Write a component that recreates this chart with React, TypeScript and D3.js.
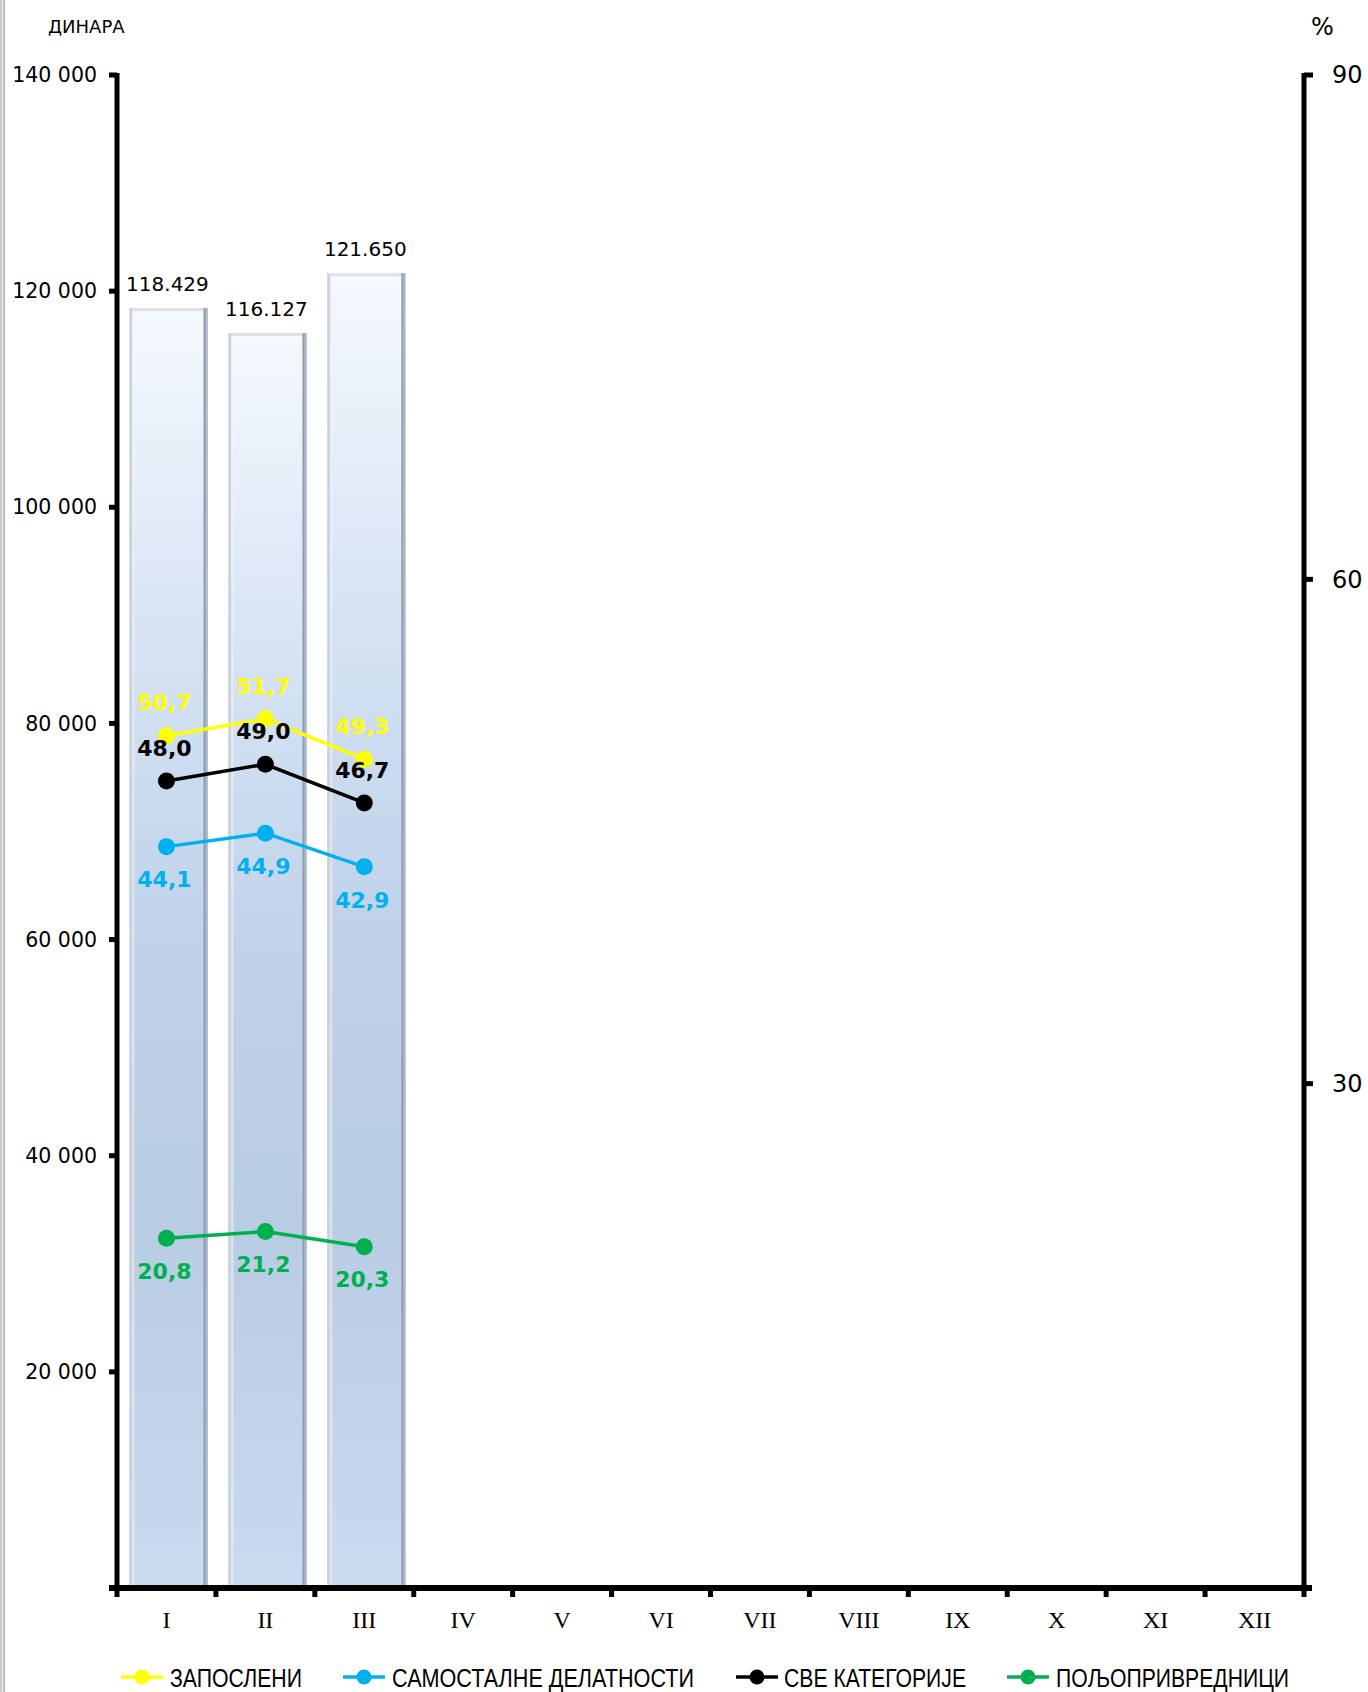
import React from "react";
import * as d3 from "d3";

const months = ["I", "II", "III", "IV", "V", "VI", "VII", "VIII", "IX", "X", "XI", "XII"];
const barValues = [118429, 116127, 121650];
const barLabels = ["118.429", "116.127", "121.650"];
const leftTicks = [20000, 40000, 60000, 80000, 100000, 120000, 140000];
const leftTickLabels = ["20 000", "40 000", "60 000", "80 000", "100 000", "120 000", "140 000"];
const rightTicks = [30, 60, 90];

const seriesNames = ["ЗАПОСЛЕНИ", "САМОСТАЛНЕ ДЕЛАТНОСТИ", "СВЕ КАТЕГОРИЈЕ", "ПОЉОПРИВРЕДНИЦИ"];
const seriesColors = ["#ffff00", "#00b0f0", "#000000", "#00b050"];
const zaposleni = [50.7, 51.7, 49.3];
const samostalne = [44.1, 44.9, 42.9];
const sve = [48.0, 49.0, 46.7];
const poljo = [20.8, 21.2, 20.3];
const seriesValues = [zaposleni, samostalne, sve, poljo];
// label offset direction: -1 above, +1 below
const labelSide = [-1, 1, -1, 1];

const W = 1368;
const H = 1692;
const left = 117;
const right = 1304;
const top = 75;
const bottom = 1588;

export default function App() {
  const x = d3.scaleBand<string>().domain(months).range([left, right]).padding(0);
  const yL = d3.scaleLinear().domain([0, 140000]).range([bottom, top]);
  const yR = d3.scaleLinear().domain([0, 90]).range([bottom, top]);
  const bw = x.bandwidth();
  const barW = bw * 0.79;
  const line = d3
    .line<number>()
    .x((_, i) => (x(months[i]) as number) + bw / 2)
    .y((d) => yR(d));

  const legendItems = [
    { lx: 121, tx: 170, tw: 132 },
    { lx: 343, tx: 392, tw: 302 },
    { lx: 736, tx: 784, tw: 182 },
    { lx: 1007, tx: 1056, tw: 233 },
  ];

  return (
    <div style={{ position: "absolute", left: 0, top: 0 }}>
      <svg width={W} height={H} style={{ display: "block", background: "#fff" }}>
        <defs>
          <linearGradient id="barGrad" x1="0" y1="0" x2="0" y2="1">
            <stop offset="0" stopColor="#f6f9fe" />
            <stop offset="0.1" stopColor="#e9f0fa" />
            <stop offset="0.3" stopColor="#d2e0f2" />
            <stop offset="0.5" stopColor="#bfd2ea" />
            <stop offset="0.72" stopColor="#b8cce4" />
            <stop offset="1" stopColor="#cadaef" />
          </linearGradient>
          <linearGradient id="edgeGrad" x1="0" y1="0" x2="1" y2="0">
            <stop offset="0" stopColor="#c0c0c0" />
            <stop offset="0.5" stopColor="#e4e4e4" />
            <stop offset="1" stopColor="#aaaaaa" />
          </linearGradient>
        </defs>
        <rect x={0} y={0} width={5} height={H} fill="url(#edgeGrad)" />

        {/* bars */}
        {barValues.map((v, i) => {
          const cx = (x(months[i]) as number) + bw / 2 + 2;
          const x0 = cx - barW / 2;
          const y0 = yL(v);
          const h = bottom - 3 - y0;
          return (
            <g key={i}>
              <rect x={x0} y={y0} width={barW} height={h} fill="url(#barGrad)" />
              <rect x={x0} y={y0} width={barW} height={3} fill="#dde1e6" />
              <rect x={x0} y={y0} width={3} height={h} fill="#ccd3db" />
              <rect x={x0 + 3} y={y0 + 3} width={2} height={h - 3} fill="#f2f6fb" opacity={0.6} />
              <rect x={x0 + barW - 4} y={y0} width={4} height={h} fill="#8d9db3" />
              <rect x={x0 + barW - 2} y={y0} width={2} height={h} fill="#b4bcc8" />
              <text
                x={cx - 1}
                y={y0 - 17}
                textAnchor="middle"
                fontFamily="DejaVu Sans, Verdana, sans-serif"
                fontSize={20}
                fill="#000"
              >
                {barLabels[i]}
              </text>
            </g>
          );
        })}

        {/* axes */}
        <line x1={left} y1={top - 2} x2={left} y2={bottom + 2} stroke="#000" strokeWidth={5} />
        <line x1={right} y1={top - 2} x2={right} y2={bottom + 2} stroke="#000" strokeWidth={5} />
        <line x1={left - 8} y1={bottom} x2={right + 8} y2={bottom} stroke="#000" strokeWidth={6} />
        {leftTicks.map((t, i) => (
          <g key={t}>
            <line x1={left - 8} x2={left} y1={yL(t)} y2={yL(t)} stroke="#000" strokeWidth={5} />
            <text
              x={97}
              y={yL(t)}
              dy="0.35em"
              textAnchor="end"
              fontFamily="DejaVu Sans, Verdana, sans-serif"
              fontSize={20.5}
              fill="#000"
            >
              {leftTickLabels[i]}
            </text>
          </g>
        ))}
        {rightTicks.map((t) => (
          <g key={t}>
            <line x1={right} x2={right + 9} y1={yR(t)} y2={yR(t)} stroke="#000" strokeWidth={5} />
            <text
              x={1332}
              y={yR(t)}
              dy="0.35em"
              textAnchor="start"
              fontFamily="DejaVu Sans, Verdana, sans-serif"
              fontSize={24}
              fill="#000"
            >
              {t}
            </text>
          </g>
        ))}
        {d3.range(months.length + 1).map((i) => (
          <line
            key={i}
            x1={left + i * bw}
            x2={left + i * bw}
            y1={bottom}
            y2={bottom + 9}
            stroke="#000"
            strokeWidth={5}
          />
        ))}
        {months.map((m) => (
          <text
            key={m}
            x={(x(m) as number) + bw / 2}
            y={1620}
            dy="0.35em"
            textAnchor="middle"
            fontFamily="Liberation Serif, Times New Roman, serif"
            fontSize={24}
            fill="#000"
          >
            {m}
          </text>
        ))}
        <text x={48} y={27} dy="0.35em" fontFamily="DejaVu Sans, Verdana, sans-serif" fontSize={18} fill="#000">
          ДИНАРА
        </text>
        <text x={1311} y={27} dy="0.35em" fontFamily="DejaVu Sans, Verdana, sans-serif" fontSize={24} fill="#000">
          %
        </text>

        {/* lines */}
        {seriesValues.map((vals, s) => (
          <g key={s}>
            <path d={line(vals) || ""} fill="none" stroke={seriesColors[s]} strokeWidth={3.5} />
            {vals.map((v, i) => (
              <circle
                key={i}
                cx={(x(months[i]) as number) + bw / 2}
                cy={yR(v)}
                r={8.5}
                fill={seriesColors[s]}
              />
            ))}
            {vals.map((v, i) => (
              <text
                key={"t" + i}
                x={(x(months[i]) as number) + bw / 2 - 2}
                y={yR(v) + labelSide[s] * 33}
                dy="0.35em"
                textAnchor="middle"
                fontFamily="DejaVu Sans, Verdana, sans-serif"
                fontWeight="bold"
                fontSize={22}
                fill={seriesColors[s]}
              >
                {d3.format(".1f")(v).replace(".", ",")}
              </text>
            ))}
          </g>
        ))}

        {/* legend */}
        {legendItems.map((it, s) => (
          <g key={s}>
            <line x1={it.lx} x2={it.lx + 42} y1={1677} y2={1677} stroke={seriesColors[s]} strokeWidth={3.5} />
            <circle cx={it.lx + 21} cy={1677} r={7.5} fill={seriesColors[s]} />
            <text
              x={it.tx}
              y={1678}
              dy="0.35em"
              fontFamily="Liberation Sans, Arial, sans-serif"
              fontSize={25}
              textLength={it.tw}
              lengthAdjust="spacingAndGlyphs"
              fill="#000"
            >
              {seriesNames[s]}
            </text>
          </g>
        ))}
      </svg>
    </div>
  );
}
